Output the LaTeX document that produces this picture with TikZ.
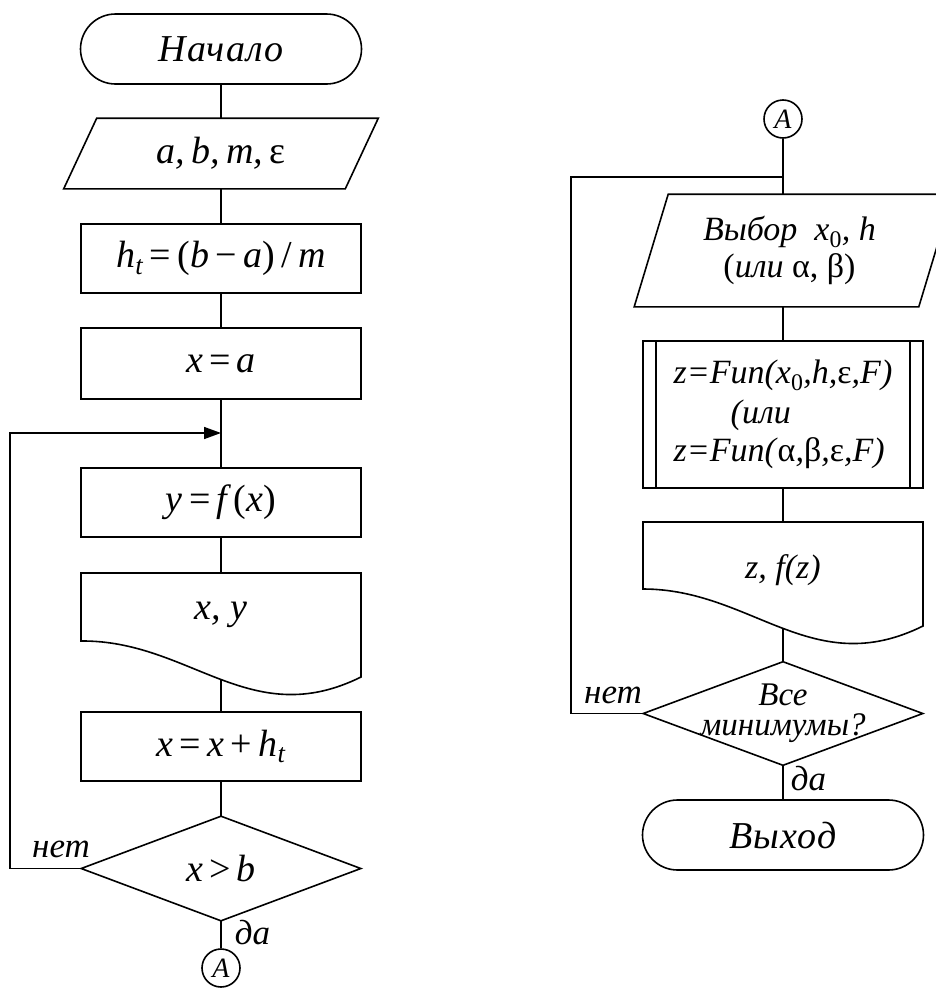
\documentclass[tikz,border=0pt]{standalone}
\usepackage{fontspec}
\setmainfont{Liberation Serif}
\usetikzlibrary{arrows.meta}
\newcommand\fW{\fontsize{38}{40}\selectfont\itshape\addfontfeature{LetterSpace=3}}
\newcommand\fF{\fontsize{38}{42}\selectfont\itshape}
\newcommand\fR{\fontsize{34}{36}\selectfont\itshape}
\newcommand\fD{\fontsize{33}{36}\selectfont\itshape}
\newcommand\fL{\fontsize{35}{38}\selectfont\itshape}
\newcommand\fA{\fontsize{28}{30}\selectfont\itshape}
\newcommand\up[1]{\textup{#1}}
\begin{document}
\begin{tikzpicture}[x=1pt,y=-1pt, line width=1.6pt,
  box/.style={draw, rectangle, minimum width=280pt, minimum height=70pt, inner sep=0pt, font=\fF},
  term/.style={draw, rectangle, rounded corners=35pt, minimum width=281pt, minimum height=70pt, inner sep=0pt, font=\fW},
  ghost/.style={rectangle, inner sep=0pt, draw=none},
  conn/.style={circle, draw, minimum size=38pt, inner sep=0pt, font=\fA},
  lbl/.style={inner sep=0pt, font=\fL},
  >={Triangle[length=17pt,width=12pt]}]
\clip (0,0) rectangle (936,988);
\fill[white] (0,0) rectangle (936,988);

% ---------- left column ----------
\node[term] (start) at (221,49) {Начало};
\node[ghost, minimum width=280pt, minimum height=69pt, font=\fF] (in1) at (221,153.5) {a,\,b,\,m,\,\up{ε}};
\draw ([xshift=16.5pt]in1.north west) -- ([xshift=16.5pt]in1.north east)
  -- ([xshift=-16.5pt]in1.south east) -- ([xshift=-16.5pt]in1.south west) -- cycle;
\node[box, minimum height=69pt] (ht) at (221,258.5) {h\textsubscript{t}\,\up{=}\,\up{(}b\,\up{−}\,a\up{)}\,\up{/}\,m};
\node[box, minimum height=71pt] (xa) at (221,363.5) {x\,\up{=}\,a};
\coordinate (j1) at (221,433);
\node[box, minimum height=69pt] (yf) at (221,502.5) {y\,\up{=}\,f\,\up{(}x\up{)}};
\node[ghost, minimum width=280pt, minimum height=84pt, font=\fF] (d1) at (221,615) {x, y};
\draw (81,573) -- (361,573) -- (361,677) .. controls (250,732) and (190,640) .. (81,641) -- cycle;
\coordinate (d1b) at (221,680);
\node[box, minimum height=69pt] (xh) at (221,746.5) {x\,\up{=}\,x\,\up{+}\,h\textsubscript{t}};
\node[ghost, minimum width=278pt, minimum height=103pt, font=\fF] (c1) at (221,868.5) {x\,\up{>}\,b};
\draw (c1.north) -- (c1.east) -- (c1.south) -- (c1.west) -- cycle;
\node[conn] (A1) at (221,968) {A};
\node[lbl, anchor=base] (no1) at (61,857) {нет};
\node[lbl, anchor=base west] (yes1) at (234,944) {да};

\draw (start.south) -- (in1.north);
\draw (in1.south) -- (ht.north);
\draw (ht.south) -- (xa.north);
\draw (xa.south) -- (yf.north);
\draw (yf.south) -- (d1.north);
\draw (d1b) -- (xh.north);
\draw (xh.south) -- (c1.north);
\draw (c1.south) -- (A1.north);
\draw[->] (c1.west) -- ++(-71,0) |- (j1);

% ---------- right column ----------
\node[conn] (A2) at (783,119) {A};
\coordinate (j2) at (783,177);
\node[ghost, minimum width=283pt, minimum height=111pt, font=\fR, align=center] (in2) at (793.5,250.5)
  {\hspace*{-8pt}Выбор\ \ x\up{\textsubscript{0}}, h\\[1pt]\hspace*{-8pt}\up{(}или \up{α, β)}};
\draw ([xshift=17pt]in2.north west) -- ([xshift=17pt]in2.north east)
  -- ([xshift=-17pt]in2.south east) -- ([xshift=-17pt]in2.south west) -- cycle;
\node[box, minimum height=147pt, font=\fR, align=left] (fun) at (783,414.5)
  {z=Fun(x\up{\textsubscript{0}},h,\up{ε},F)\\[4pt]\hspace*{57pt}(или\\[2pt]z=Fun(\up{α},\up{β},\up{ε},F)};
\draw ([xshift=14pt]fun.north west) -- ([xshift=14pt]fun.south west);
\draw ([xshift=-14pt]fun.north east) -- ([xshift=-14pt]fun.south east);
\node[ghost, minimum width=280pt, minimum height=96pt, font=\fR] (d2) at (783,570) {z, f(z)};
\draw (643,522) -- (923,522) -- (923,626) .. controls (812,681) and (752,589) .. (643,589) -- cycle;
\coordinate (d2b) at (783,629);
\node[ghost, minimum width=278pt, minimum height=102pt, font=\fD] (c2) at (783,713.5)
  {\raisebox{8pt}{\begin{tabular}{@{}c@{}}Все\\[-6pt]минимумы?\end{tabular}}};
\draw (c2.north) -- (c2.east) -- (c2.south) -- (c2.west) -- cycle;
\node[term] (exit) at (783,835) {Выход};
\node[lbl, anchor=base] (no2) at (613,703) {нет};
\node[lbl, anchor=base west] (yes2) at (790,790) {да};

\draw (A2.south) -- (A2.south |- in2.north);
\draw (A2 |- in2.south) -- (fun.north);
\draw (fun.south) -- (d2.north);
\draw (d2b) -- (c2.north);
\draw (c2.south) -- (exit.north);
\draw (c2.west) -- ++(-72,0) |- (j2);
\end{tikzpicture}
\end{document}
